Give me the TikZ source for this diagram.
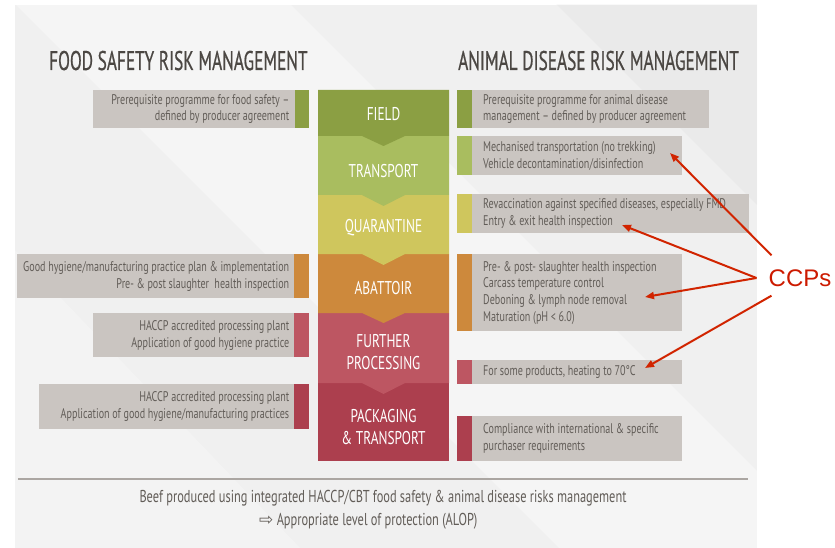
\documentclass[tikz,border=0pt]{standalone}
\usepackage{fontspec}
\setmainfont{PT Sans}[FakeStretch=0.72]
\newfontfamily\hdrfont{PT Sans}[FakeStretch=0.64,FakeBold=0.6]
\newfontfamily\ccpfont{Liberation Sans}
\newfontfamily\symfont{DejaVu Sans}
\usepackage{tikz}
\usetikzlibrary{arrows.meta,positioning}
\usepackage{xcolor}
\definecolor{PanelGrey}{HTML}{F0F0F0}
\definecolor{BoxGrey}{HTML}{CAC5C1}
\definecolor{TextGrey}{HTML}{625D58}
\definecolor{HeadGrey}{HTML}{4B4743}
\definecolor{RuleGrey}{HTML}{ABA6A2}
\definecolor{FieldGreen}{HTML}{8B9F43}
\definecolor{TransGreen}{HTML}{A9BD5F}
\definecolor{QuarYellow}{HTML}{CFC65D}
\definecolor{AbatOrange}{HTML}{CD893C}
\definecolor{ProcRose}{HTML}{BD5662}
\definecolor{PackRed}{HTML}{AC3F4E}
\definecolor{CCPRed}{HTML}{CC1A00}

\tikzset{
  hdr/.style={font=\hdrfont\fontsize{27}{30}\selectfont, text=HeadGrey, inner sep=0pt},
  stagetxt/.style={font=\fontsize{18.5}{22}\selectfont, text=white, align=center, inner sep=0pt},
  infobox/.style={fill=BoxGrey, inner sep=0pt, anchor=north west},
  lefttxt/.style={font=\fontsize{14}{16.6}\selectfont, text=TextGrey, align=right, inner sep=0pt, anchor=east},
  righttxt/.style={font=\fontsize{14}{16.6}\selectfont, text=TextGrey, align=left, inner sep=0pt, anchor=west},
  foot/.style={font=\fontsize{17.2}{20}\selectfont, text=TextGrey, inner sep=0pt},
  ccparrow/.style={draw=CCPRed!90!orange, line width=2pt, -{Triangle[length=9pt,width=7pt]}},
}

\begin{document}
\begin{tikzpicture}[x=1pt,y=-1pt]
   \useasboundingbox (0,0) rectangle (835,548);

   % panel with faint diagonal bands
   \fill[PanelGrey] (15,5) rectangle (757,548);
   \begin{scope}
     \clip (15,5) rectangle (757,548);
     \fill[white,opacity=.35] (15,4) -- (290,4) -- (834,548) -- (559,548) -- cycle;
     \fill[black,opacity=.025] (556,4) -- (760,4) -- (760,208) -- cycle;
     \fill[white,opacity=.25] (15,250) -- (300,548) -- (15,548) -- cycle;
   \end{scope}

   % headings
   \node[hdr, anchor=base west] (foodhdr) at (49,70) {FOOD SAFETY RISK MANAGEMENT};
   \node[hdr, anchor=base west] (animalhdr) at (458,70) {ANIMAL DISEASE RISK MANAGEMENT};

   % chain of stages, drawn bottom-up so each chevron sits on the next one
   \fill[PackRed] (318,383) rectangle (449,461);
   \fill[ProcRose] (318,313) -- (449,313) -- (449,383) -- (405,383) -- (383.5,394)
     -- (362,383) -- (318,383) -- cycle;
   \fill[AbatOrange] (318,254) -- (449,254) -- (449,313) -- (405,313) -- (383.5,323)
     -- (362,313) -- (318,313) -- cycle;
   \fill[QuarYellow] (318,195) -- (449,195) -- (449,254) -- (405,254) -- (383.5,265)
     -- (362,254) -- (318,254) -- cycle;
   \fill[TransGreen] (318,136) -- (449,136) -- (449,195) -- (405,195) -- (383.5,206)
     -- (362,195) -- (318,195) -- cycle;
   \fill[FieldGreen] (318,90) -- (449,90) -- (449,136) -- (405,136) -- (383.5,146)
     -- (362,136) -- (318,136) -- cycle;

   \node[stagetxt] (field) at (383.5,114) {FIELD};
   \node[stagetxt] (transport) at (383.5,171) {TRANSPORT};
   \node[stagetxt] (quarantine) at (383.5,228) {QUARANTINE};
   \node[stagetxt] (abattoir) at (383.5,288) {ABATTOIR};
   \node[stagetxt, font=\fontsize{18.5}{22.5}\selectfont] (processing) at (383.5,352) {FURTHER\\PROCESSING};
   \node[stagetxt, font=\fontsize{18.5}{22.5}\selectfont] (packaging) at (383.5,427) {PACKAGING\\\& TRANSPORT};

   % food safety side
   \node[infobox, minimum width=216pt, minimum height=38pt] (lfield) at (93,90) {};
   \fill[FieldGreen] (lfield.north east) rectangle ([xshift=-14pt]lfield.south east);
   \node[lefttxt] (lfieldtxt) at ([xshift=-20pt]lfield.east)
     {Prerequisite programme for food safety –\\defined by producer agreement};

   \node[infobox, minimum width=292pt, minimum height=44pt] (labattoir) at (17,254) {};
   \fill[AbatOrange] (labattoir.north east) rectangle ([xshift=-15pt]labattoir.south east);
   \node[lefttxt] (labattoirtxt) at ([xshift=-20pt]labattoir.east)
     {Good hygiene/manufacturing practice plan \& implementation\\Pre- \& post slaughter\ \ health inspection};

   \node[infobox, minimum width=216pt, minimum height=44pt] (lprocess) at (93,313) {};
   \fill[ProcRose] (lprocess.north east) rectangle ([xshift=-15pt]lprocess.south east);
   \node[lefttxt] (lprocesstxt) at ([xshift=-20pt]lprocess.east)
     {HACCP accredited processing plant\\Application of good hygiene practice};

   \node[infobox, minimum width=270pt, minimum height=45pt] (lpack) at (39,384) {};
   \fill[PackRed] (lpack.north east) rectangle ([xshift=-15pt]lpack.south east);
   \node[lefttxt] (lpacktxt) at ([xshift=-20pt]lpack.east)
     {HACCP accredited processing plant\\Application of good hygiene/manufacturing practices};

   % animal disease side
   \node[infobox, minimum width=252pt, minimum height=38pt] (rfield) at (457,90) {};
   \fill[FieldGreen] (rfield.north west) rectangle ([xshift=15pt]rfield.south west);
   \node[righttxt] (rfieldtxt) at ([xshift=26pt]rfield.west)
     {Prerequisite programme for animal disease\\management – defined by producer agreement};

   \node[infobox, minimum width=225pt, minimum height=39pt] (rtransport) at (457,136) {};
   \fill[TransGreen] (rtransport.north west) rectangle ([xshift=15pt]rtransport.south west);
   \node[righttxt] (rtransporttxt) at ([xshift=26pt]rtransport.west)
     {Mechanised transportation (no trekking)\\Vehicle decontamination/disinfection};

   \node[infobox, minimum width=292pt, minimum height=39pt] (rquarantine) at (457,194) {};
   \fill[QuarYellow] (rquarantine.north west) rectangle ([xshift=15pt]rquarantine.south west);
   \node[righttxt] (rquarantinetxt) at ([xshift=26pt]rquarantine.west)
     {Revaccination against specified diseases, especially FMD\\Entry \& exit health inspection};

   \node[infobox, minimum width=225pt, minimum height=77pt] (rabattoir) at (457,254) {};
   \fill[AbatOrange] (rabattoir.north west) rectangle ([xshift=15pt]rabattoir.south west);
   \node[righttxt] (rabattoirtxt) at ([xshift=26pt]rabattoir.west)
     {Pre- \& post- slaughter health inspection\\Carcass temperature control\\Deboning \& lymph node removal\\Maturation (pH < 6.0)};

   \node[infobox, minimum width=225pt, minimum height=24pt] (rprocess) at (457,360) {};
   \fill[ProcRose] (rprocess.north west) rectangle ([xshift=15pt]rprocess.south west);
   \node[righttxt] (rprocesstxt) at ([xshift=26pt]rprocess.west)
     {For some products, heating to 70°C};

   \node[infobox, minimum width=225pt, minimum height=45pt] (rpack) at (457,416) {};
   \fill[PackRed] (rpack.north west) rectangle ([xshift=15pt]rpack.south west);
   \node[righttxt] (rpacktxt) at ([xshift=26pt]rpack.west)
     {Compliance with international \& specific\\purchaser requirements};

   % critical control points
   \node[font=\ccpfont\fontsize{24}{28}\selectfont, text=CCPRed, inner sep=0pt] (ccp) at (800,278) {CCPs};
   \coordinate (notrek) at (670,153);
   \coordinate (entry) at (622,225);
   \coordinate (debone) at (645,297);
   \coordinate (heat) at (645,368);
   \draw[ccparrow] ([shift={(3pt,14pt)}]ccp.north west) -- (notrek);
   \draw[ccparrow] ([xshift=-12pt]ccp.west) -- (entry);
   \draw[ccparrow] ([xshift=-12pt]ccp.west) -- (debone);
   \draw[ccparrow] ([shift={(3pt,-9pt)}]ccp.south west) -- (heat);

   % outcome
   \draw[RuleGrey, line width=1.5pt] (18,479) -- (748,479);
   \node[foot] (beef) at (383,498)
     {Beef produced using integrated HACCP/CBT food safety \& animal disease risks management};
   \node[foot, anchor=west] (alop) at (259,521)
     {{\symfont\fontsize{17}{18}\selectfont ⇨}\ Appropriate level of protection (ALOP)};
\end{tikzpicture}
\end{document}
